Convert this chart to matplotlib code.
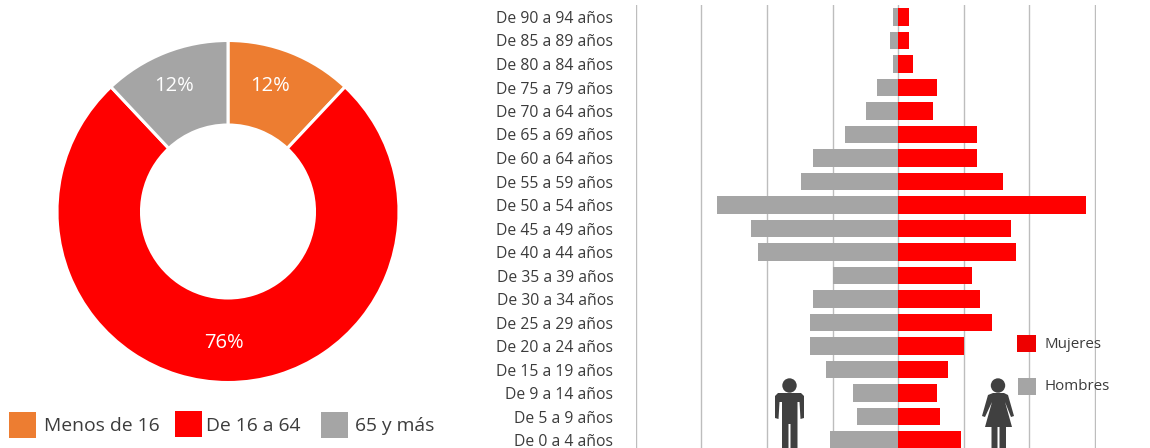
import numpy as np
import matplotlib
matplotlib.use("Agg")
import matplotlib.pyplot as plt
from matplotlib.patches import Rectangle, Circle, Polygon

W, H = 1150, 448

# donut
grupos = ["Menos de 16", "De 16 a 64", "65 y más"]
grupos_pct = [12, 76, 12]
grupos_col = ["#ED7D31", "#FF0000", "#A5A5A5"]

# piramide (de arriba a abajo)
edades = ["De 90 a 94 años", "De 85 a 89 años", "De 80 a 84 años", "De 75 a 79 años",
          "De 70 a 64 años", "De 65 a 69 años", "De 60 a 64 años", "De 55 a 59 años",
          "De 50 a 54 años", "De 45 a 49 años", "De 40 a 44 años", "De 35 a 39 años",
          "De 30 a 34 años", "De 25 a 29 años", "De 20 a 24 años", "De 15 a 19 años",
          "De 9 a 14 años", "De 5 a 9 años", "De 0 a 4 años"]
hombres = [0.15, 0.25, 0.15, 0.65, 0.98, 1.61, 2.61, 2.97, 5.52, 4.50,
           4.28, 1.97, 2.59, 2.70, 2.70, 2.21, 1.36, 1.25, 2.08]
mujeres = [0.34, 0.34, 0.46, 1.19, 1.07, 2.40, 2.40, 3.22, 5.73, 3.46,
           3.59, 2.25, 2.50, 2.87, 2.03, 1.54, 1.19, 1.29, 1.91]
grid_ticks = [-8, -6, -4, -2, 0, 2, 4, 6]

FONT = "Open Sans"
TXT = "#3c3c3c"
ICON = "#404040"


def add_axes_px(fig, x0, y0, x1, y1):
    return fig.add_axes([x0 / W, 1 - y1 / H, (x1 - x0) / W, (y1 - y0) / H])


def main():
    plt.rcParams["font.family"] = [FONT, "DejaVu Sans"]
    fig = plt.figure(figsize=(W / 100, H / 100), dpi=100)

    # ---- donut ----
    ax = add_axes_px(fig, 55, 38.5, 401, 384.5)
    ax.pie(grupos_pct, colors=grupos_col, startangle=90, counterclock=False,
           radius=1, wedgeprops=dict(width=84.5 / 171, edgecolor="white", linewidth=2.2))
    ax.set_xlim(-173 / 171, 173 / 171)
    ax.set_ylim(-173 / 171, 173 / 171)
    pos = [(270, 86), (224, 343), (174, 86)]
    for p, (x, y) in zip(grupos_pct, pos):
        fig.text(x / W, 1 - y / H, f"{p}%", color="white", fontsize=14.5,
                 ha="center", va="center")

    # ---- piramide ----
    ax2 = add_axes_px(fig, 635.5, 5, 1095.5, 448)
    y = np.arange(len(edades))
    ax2.barh(y, -np.array(hombres), height=0.74, color="#A5A5A5", zorder=3)
    ax2.barh(y, mujeres, height=0.74, color="#FF0000", zorder=3)
    ax2.set_xlim(-8.015, 6.03)
    ax2.set_ylim(431 / 23.5, -12 / 23.5)
    ax2.set_yticks(y)
    ax2.set_yticklabels(edades, fontsize=11.3, color=TXT)
    ax2.tick_params(axis="y", length=0, pad=16)
    ax2.set_xticks(grid_ticks)
    ax2.tick_params(axis="x", length=0, labelbottom=False)
    ax2.grid(axis="x", color="#BDBDBD", linewidth=1, zorder=0)
    for s in ax2.spines.values():
        s.set_visible(False)

    # ---- capa en pixeles: leyendas e iconos ----
    top = fig.add_axes([0, 0, 1, 1], facecolor="none")
    top.set_xlim(0, W)
    top.set_ylim(H, 0)
    top.axis("off")

    leg_x = [9, 175, 321]
    leg_y = [412, 411, 412]
    txt_x = [44, 206, 355]
    for c, lx, ly, tx, name in zip(grupos_col, leg_x, leg_y, txt_x, grupos):
        top.add_patch(Rectangle((lx, ly), 27, 26, color=c, lw=0))
        top.text(tx, 426, name, fontsize=13.9, color=TXT, va="center")

    top.add_patch(Rectangle((1017, 335), 19, 17, color="#EE0000", lw=0))
    top.add_patch(Rectangle((1018, 378), 18, 17, color="#A5A5A5", lw=0))
    top.text(1045, 345, "Mujeres", fontsize=10.9, color=TXT, va="center")
    top.text(1045, 386.5, "Hombres", fontsize=10.9, color=TXT, va="center")

    # hombre
    top.add_patch(Circle((789.5, 385.5), 7.2, color=ICON, lw=0))
    top.add_patch(Polygon([(778, 393), (801, 393), (804, 396), (804, 418), (800.5, 419),
                           (799.5, 402), (797.5, 402), (797.5, 448), (790.5, 448), (790.5, 424),
                           (788.5, 424), (788.5, 448), (782, 448), (782, 402), (779.5, 402),
                           (778.5, 419), (775, 418), (775, 396)], color=ICON, lw=0))
    # mujer
    top.add_patch(Circle((998, 385.5), 7.2, color=ICON, lw=0))
    top.add_patch(Polygon([(993, 393), (1004, 393), (1008, 395), (1014, 416), (1011, 417),
                           (1005, 402), (1012, 427), (1006, 427), (1006, 448), (999.5, 448),
                           (999.5, 427), (997.5, 427), (997.5, 448), (991.5, 448), (991.5, 427),
                           (985, 427), (992, 402), (985, 417), (982, 416), (988, 395)],
                          color=ICON, lw=0))

    fig.savefig("out.png", dpi=100)


if __name__ == "__main__":
    main()
